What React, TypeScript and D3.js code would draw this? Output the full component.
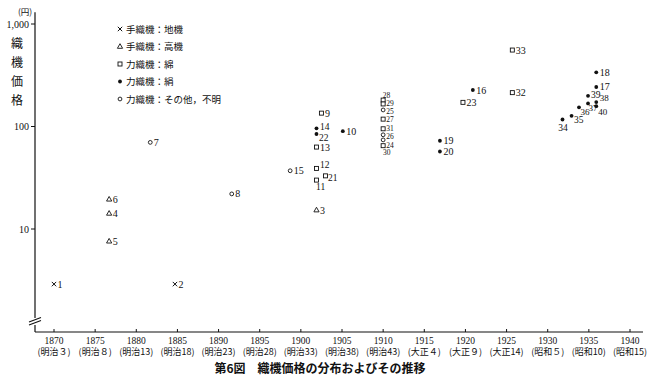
import React from 'react';
import * as d3 from 'd3';

// ---- data ----
const pointIds = [1, 2, 3, 4, 5, 6, 7, 8, 9, 10, 11, 12, 13, 14, 15, 16, 17, 18, 19, 20, 21, 22, 23, 24, 25, 26, 27, 28, 29, 30, 31, 32, 33, 34, 35, 36, 37, 38, 39, 40];
const pointYears = [1870, 1884.7, 1901.9, 1876.7, 1876.7, 1876.7, 1881.7, 1891.6, 1902.5, 1905.1, 1901.9, 1901.9, 1901.9, 1901.9, 1898.7, 1920.9, 1935.9, 1935.9, 1916.9, 1916.9, 1903, 1901.9, 1919.7, 1910, 1910, 1910, 1910, 1910, 1910, 1910, 1910, 1925.7, 1925.7, 1931.8, 1932.9, 1933.8, 1934.9, 1935.9, 1934.9, 1935.9];
const pointPrices = [2.9, 2.9, 15.3, 14.2, 7.6, 19.5, 70, 22, 135, 90, 30, 39, 63, 96, 37, 227, 243, 338, 72.6, 57, 33, 84.5, 172, 74, 145, 83, 118, 181, 166, 65, 95, 214, 557, 117, 127, 154, 168, 173, 199, 158];
// x: 手織機地機, tri: 手織機高機, sq: 力織機綿, dot: 力織機絹, circ: 力織機その他
const pointKinds = ['x', 'x', 'tri', 'tri', 'tri', 'tri', 'circ', 'circ', 'sq', 'dot', 'sq', 'sq', 'sq', 'dot', 'circ', 'dot', 'dot', 'dot', 'dot', 'dot', 'sq', 'dot', 'sq', 'circ', 'circ', 'circ', 'sq', 'sq', 'sq', 'sq', 'sq', 'sq', 'sq', 'dot', 'dot', 'dot', 'dot', 'dot', 'dot', 'dot'];

const legendKinds = ['x', 'tri', 'sq', 'dot', 'circ'];
const legendLabels = ['手織機：地機', '手織機：高機', '力織機：綿', '力織機：絹', '力織機：その他，不明'];

const xTickYears = [1870, 1875, 1880, 1885, 1890, 1895, 1900, 1905, 1910, 1915, 1920, 1925, 1930, 1935, 1940];
const xEraLabels = ['(明治３)', '(明治８)', '(明治13)', '(明治18)', '(明治23)', '(明治28)', '(明治33)', '(明治38)', '(明治43)', '(大正４)', '(大正９)', '(大正14)', '(昭和５)', '(昭和10)', '(昭和15)'];
const yTickValues = [10, 100, 1000];
const yTickLabels = ['10', '100', '1,000'];
const yAxisTitle = ['織', '機', '価', '格'];
const yUnit = '(円)';
const chartTitle = '第6図　織機価格の分布およびその推移';

// label nudges (styling only): [dx, dy, anchor, fontSize]
const labelNudge: Record<number, [number, number, string?, number?]> = {
  34: [0, 11, 'middle', 9.5],
  35: [2, 7, 'start', 9.5],
  36: [1, 8, 'start', 9],
  37: [0, 8, 'start', 9],
  40: [1.5, 9, 'start', 9],
  38: [3, -1, 'start', 9],
  39: [2.5, 2, 'start', 9.5],
  28: [-1, -2.3, 'start', 7.5],
  29: [2.5, 1.7, 'start', 7.5],
  25: [2.5, 3.7, 'start', 7.5],
  27: [2.5, 2.7, 'start', 7.5],
  31: [2.5, 2.7, 'start', 7.5],
  26: [2.5, 4.7, 'start', 7.5],
  24: [2.5, 7.7, 'start', 7.5],
  30: [3, 9.7, 'middle', 7.5],
  12: [3, 0, 'start', 9.5],
  11: [-1, 9.5, 'start', 9.5],
  22: [2, 7, 'start', 9.5],
  14: [3, 1.5, 'start', 9.5],
  21: [2, 5, 'start', 9.5],
};

const serif = '"Liberation Serif", "DejaVu Serif", "Noto Sans CJK JP", serif';
const cjk = '"Noto Sans CJK JP", "Liberation Serif", serif';

function Marker({ kind, x, y }: { kind: string; x: number; y: number }) {
  const s = 2.2;
  if (kind === 'x')
    return (
      <g stroke="#111" strokeWidth={1}>
        <line x1={x - s} y1={y - s} x2={x + s} y2={y + s} />
        <line x1={x - s} y1={y + s} x2={x + s} y2={y - s} />
      </g>
    );
  if (kind === 'tri') {
    const p = d3.path();
    p.moveTo(x, y - 2.8);
    p.lineTo(x + 2.6, y + 1.8);
    p.lineTo(x - 2.6, y + 1.8);
    p.closePath();
    return <path d={p.toString()} fill="white" stroke="#111" strokeWidth={0.9} />;
  }
  if (kind === 'sq')
    return <rect x={x - 2} y={y - 2} width={4} height={4} fill="white" stroke="#111" strokeWidth={0.9} />;
  if (kind === 'dot') return <circle cx={x} cy={y} r={1.9} fill="#111" />;
  return <circle cx={x} cy={y} r={1.9} fill="white" stroke="#111" strokeWidth={0.9} />;
}

export default function App() {
  const W = 655, H = 381;
  const x = d3.scaleLinear().domain([1870, 1940]).range([54, 630]);
  const y = d3.scaleLog().domain([1, 1000]).range([331.5, 24]);
  const axisX = 35;
  const axisBottom = 332;
  const axisTop = y(1300);
  const axisRight = 643;

  return (
    <div style={{ position: 'fixed', left: 0, top: 0 }}>
      <svg width={W} height={H} style={{ display: 'block', background: 'white' }}>
        {/* y axis with break */}
        <line x1={axisX} y1={axisTop} x2={axisX} y2={318} stroke="#111" strokeWidth={1.2} />
        <line x1={axisX} y1={325} x2={axisX} y2={axisBottom} stroke="#111" strokeWidth={1.2} />
        <line x1={29} y1={322} x2={41} y2={317.5} stroke="#111" strokeWidth={1.1} />
        <line x1={29} y1={325} x2={41} y2={320.5} stroke="#111" strokeWidth={1.1} />
        {/* x axis */}
        <line x1={axisX} y1={axisBottom} x2={axisRight} y2={axisBottom} stroke="#111" strokeWidth={1.2} />

        {/* y ticks */}
        {yTickValues.map((v, i) => (
          <g key={v}>
            <line x1={axisX - 4} x2={axisX} y1={y(v)} y2={y(v)} stroke="#111" strokeWidth={1} />
            <text x={axisX - 6} y={y(v) + 3.5} textAnchor="end" fontSize={10} fontFamily={serif} fill="#111">
              {yTickLabels[i]}
            </text>
          </g>
        ))}
        <text x={25} y={15} textAnchor="middle" fontSize={8.5} fontFamily={cjk} fill="#111">{yUnit}</text>
        {yAxisTitle.map((c, i) => (
          <text key={c} x={17} y={48 + i * 19} textAnchor="middle" fontSize={12} fontFamily={cjk} fill="#111">
            {c}
          </text>
        ))}

        {/* x ticks */}
        {xTickYears.map((yr, i) => (
          <g key={yr}>
            <line x1={x(yr)} x2={x(yr)} y1={axisBottom} y2={axisBottom - 3} stroke="#111" strokeWidth={1} />
            <text x={x(yr)} y={344} textAnchor="middle" fontSize={9.5} fontFamily={serif} fill="#111">{yr}</text>
            <text x={x(yr)} y={355} textAnchor="middle" fontSize={9} fontFamily={cjk} fill="#111">{xEraLabels[i]}</text>
          </g>
        ))}

        {/* legend */}
        {legendKinds.map((k, i) => (
          <g key={k}>
            <Marker kind={k} x={120} y={29 + i * 17.5} />
            <text x={126} y={29 + i * 17.5 + 3.5} fontSize={9.5} fontFamily={cjk} fill="#111">{legendLabels[i]}</text>
          </g>
        ))}

        {/* points */}
        {pointIds.map((id, i) => {
          const px = x(pointYears[i]);
          const py = y(pointPrices[i]);
          const n = labelNudge[id] || [3, 3.5, 'start', 10];
          return (
            <g key={id}>
              <Marker kind={pointKinds[i]} x={px} y={py} />
              <text x={px + n[0] + 0.5} y={py + n[1]} textAnchor={n[2] || 'start'} fontSize={n[3] || 10} fontFamily={serif} fill="#111">
                {id}
              </text>
            </g>
          );
        })}

        {/* title */}
        <text x={320} y={373} textAnchor="middle" fontSize={12} fontWeight="bold" fontFamily={cjk} fill="#111">{chartTitle}</text>
      </svg>
    </div>
  );
}
